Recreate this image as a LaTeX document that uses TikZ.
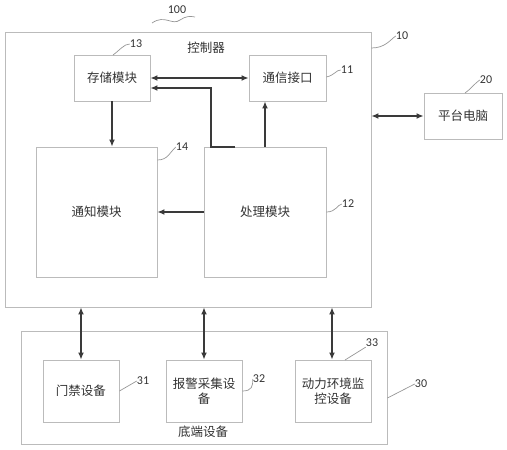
\documentclass[tikz,border=0pt]{standalone}
\usepackage{fontspec}
\setmainfont{Carlito}
\newfontfamily\cjk{Noto Sans CJK SC}
\usetikzlibrary{arrows.meta,calc}
\definecolor{boxgray}{HTML}{BBBBBB}
\definecolor{arrgray}{HTML}{3A3A3A}
\definecolor{txtgray}{HTML}{333333}
\tikzset{
  blk/.style={draw=boxgray, line width=0.9pt, minimum width=#1, inner sep=0pt, align=center, text=txtgray, font=\cjk\fontsize{12.5}{15}\selectfont},
  arr/.style={draw=arrgray, line width=1.3pt, -{Latex[length=7pt,width=6pt]}},
  darr/.style={draw=arrgray, line width=1.3pt, {Latex[length=7pt,width=6pt]}-{Latex[length=7pt,width=6pt]}},
  lead/.style={draw=boxgray!80!black, line width=0.7pt},
  num/.style={text=txtgray, font=\fontsize{12}{14}\selectfont, inner sep=0pt},
  lbl/.style={text=txtgray, font=\cjk\fontsize{12.5}{15}\selectfont, inner sep=0pt}
}
\begin{document}
\begin{tikzpicture}[x=1pt,y=-1pt]
\useasboundingbox (0,0) rectangle (507,450);
% main boxes
\node[blk=366pt, minimum height=275pt] (ctrl) at (188,169.5) {};
\node[blk=76pt, minimum height=46pt] (s13) at (112,78) {存储模块};
\node[blk=77pt, minimum height=46pt] (c11) at (287.5,78) {通信接口};
\node[blk=78pt, minimum height=46pt] (p20) at (463,116) {平台电脑};
\node[blk=121pt, minimum height=130pt] (n14) at (96.5,212) {通知模块};
\node[blk=122pt, minimum height=130pt] (pr12) at (265,212) {处理模块};
\node[blk=366pt, minimum height=113pt] (b30) at (204,387.5) {};
\node[blk=76pt, minimum height=62pt] (d31) at (81,391) {门禁设备};
\node[blk=76pt, minimum height=62pt] (d32) at (204,391) {报警采集设\\备};
\node[blk=76pt, minimum height=62pt] (d33) at (333,391) {动力环境监\\控设备};
% titles
\node[lbl] (tctrl) at (206,48) {控制器};
\node[lbl] (tb30) at (203,432) {底端设备};
% numbers
\node[num] (l100) at (177,10) {100};
\node[num] (l10) at (402,36) {10};
\node[num] (l13) at (136,44) {13};
\node[num] (l11) at (347,70) {11};
\node[num] (l20) at (486,80) {20};
\node[num] (l14) at (182,147) {14};
\node[num] (l12) at (348,204) {12};
\node[num] (l31) at (143,381) {31};
\node[num] (l32) at (259,379) {32};
\node[num] (l33) at (372,343) {33};
\node[num] (l30) at (421,384) {30};
% leaders
\draw[lead] (152,23) .. controls (165,14) and (172,26) .. (180,20) .. controls (186,16) and (190,16) .. (195,17);
\draw[lead] (ctrl.north east |- 0,48) .. controls (385,48) and (390,40) .. (l10.west);
\draw[lead] (113,55) .. controls (120,50) and (124,44) .. (l13.west);
\draw[lead] (c11.east |- 0,77) .. controls (335,75) and (336,70) .. (l11.west);
\draw[lead] (465,93) .. controls (472,88) and (474,84) .. (l20.west);
\draw[lead] (n14.east |- 0,160) .. controls (168,160) and (170,152) .. (l14.west);
\draw[lead] (pr12.east |- 0,212) .. controls (336,212) and (337,205) .. (l12.west);
\draw[lead] (d31.east) -- (l31.west);
\draw[lead] (d32.east |- 0,391) .. controls (252,391) and (253,386) .. (l32.west);
\draw[lead] (345,360) -- (l33.south west);
\draw[lead] (b30.east |- 0,398) -- (l30.west);
% arrows
\draw[darr] (s13.east) -- (c11.west);
\coordinate (pst) at (235,147);
\draw[arr] (pst) -- (211,147) -- (211,88) -- (s13.east |- 0,88);
\draw[arr] (pr12.north) -- (pr12.north |- c11.south);
\draw[arr] (s13.south) -- (s13.south |- n14.north);
\draw[arr] (pr12.west) -- (n14.east);
\draw[darr] (ctrl.east |- p20.west) -- (p20.west);
\draw[darr] (ctrl.south -| d31.north) -- (d31.north);
\draw[darr] (ctrl.south -| d32.north) -- (d32.north);
\draw[darr] (ctrl.south -| 332,0) -- (d33.north -| 332,0);
\end{tikzpicture}
\end{document}
